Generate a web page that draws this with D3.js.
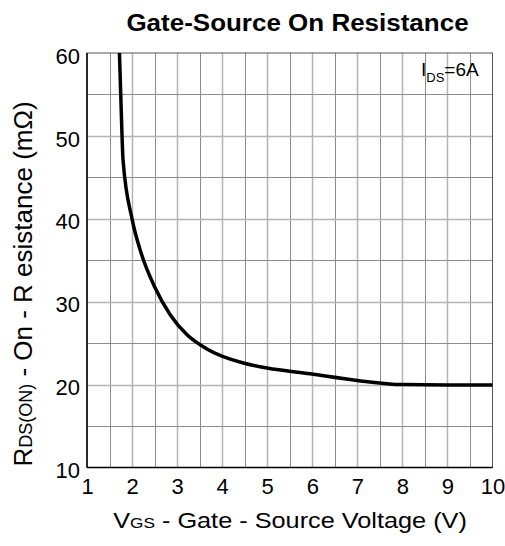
<!DOCTYPE html>
<html><head><meta charset="utf-8">
<script src="https://cdn.jsdelivr.net/npm/d3@7"></script>
<style>body{margin:0;background:#fff}svg{display:block;font-family:"Liberation Sans",Arial,sans-serif}</style>
</head><body>
<svg id="c" width="505" height="546"></svg>
<script>
const vgs = [1.72, 1.76, 1.80, 2.0, 2.2, 2.5, 2.85, 3.22, 3.66, 4.47, 5.0, 5.95, 7.0, 8.0, 9.0, 10.0];
const rds = [60, 53, 47.1, 40.0, 35.9, 31.8, 28.4, 26.0, 24.3, 22.6, 22.0, 21.3, 20.5, 20.0, 19.95, 19.95];
const xTicks = [1,2,3,4,5,6,7,8,9,10];
const yTicks = [10,20,30,40,50,60];

const svg = d3.select("#c");
const L=87, R=492.5, T=53, B=467.5;
const x = d3.scaleLinear().domain([1,10]).range([L,R]);
const y = d3.scaleLinear().domain([10,60]).range([B,T]);

// grid
const g = svg.append("g");
g.selectAll(".vg").data(d3.range(1.5,10,0.5)).join("line")
  .attr("x1",d=>Math.round(x(d))+0.5).attr("x2",d=>Math.round(x(d))+0.5)
  .attr("y1",T).attr("y2",B)
  .attr("stroke",d=>Number.isInteger(d)?"#b4b4b4":"#8c8c8c").attr("stroke-width",d=>Number.isInteger(d)?1.5:1);
g.selectAll(".hg").data(d3.range(15,60,5)).join("line")
  .attr("y1",d=>Math.round(y(d))+0.5).attr("y2",d=>Math.round(y(d))+0.5)
  .attr("x1",L).attr("x2",R)
  .attr("stroke",d=>d%10===0?"#b4b4b4":"#8c8c8c").attr("stroke-width",d=>d%10===0?1.5:1);
// frame
svg.append("rect").attr("x",L).attr("y",T).attr("width",R-L).attr("height",B-T)
  .attr("fill","none").attr("stroke","#555").attr("stroke-width",1);
svg.append("line").attr("x1",L).attr("x2",L).attr("y1",T).attr("y2",B).attr("stroke","#000").attr("stroke-width",1.5);
svg.append("line").attr("x1",L).attr("x2",R).attr("y1",B).attr("y2",B).attr("stroke","#000").attr("stroke-width",1.5);

// axes (labels only)
const xa = svg.append("g").attr("transform",`translate(0,${B})`)
  .call(d3.axisBottom(x).tickValues(xTicks).tickSize(0).tickFormat(d3.format("d")));
xa.select(".domain").remove();
xa.selectAll("text").attr("font-size",22).attr("fill","#000").attr("font-family","Liberation Sans, Arial, sans-serif")
  .attr("y",26).attr("dy",0);
const ya = svg.append("g").attr("transform",`translate(${L},0)`)
  .call(d3.axisLeft(y).tickValues(yTicks).tickSize(0).tickPadding(7).tickFormat(d3.format("d")));
ya.select(".domain").remove();
ya.selectAll("text").attr("font-size",22).attr("fill","#000").attr("font-family","Liberation Sans, Arial, sans-serif")
  .attr("dy","0.46em");

// curve
svg.append("path").datum(vgs.map((v,i)=>[v,rds[i]]))
  .attr("fill","none").attr("stroke","#000").attr("stroke-width",3.5).attr("stroke-linejoin","round")
  .attr("d",d3.line().x(d=>x(d[0])).y(d=>y(d[1])).curve(d3.curveMonotoneX));

// title
svg.append("text").attr("transform","translate(297.5,31) scale(1.13,1)").attr("text-anchor","middle")
  .attr("font-size",23).attr("font-weight","bold").text("Gate-Source On Resistance");

// annotation
const ann = svg.append("text").attr("x",421).attr("y",76).attr("font-size",19);
ann.append("tspan").text("I");
ann.append("tspan").attr("font-size",13).attr("dy",6).text("DS");
ann.append("tspan").attr("dy",-6).text("=6A");

// x label
const xl = svg.append("text").attr("transform","translate(290,528) scale(1.15,1)").attr("text-anchor","middle").attr("font-size",22);
xl.append("tspan").text("V");
xl.append("tspan").attr("font-size",15).text("GS");
xl.append("tspan").text(" - Gate - Source Voltage (V)");

// y label
const yl = svg.append("text").attr("transform","translate(32,284) rotate(-90)").attr("text-anchor","middle").attr("font-size",26);
yl.append("tspan").text("R");
yl.append("tspan").attr("font-size",18).text("DS(ON)");
yl.append("tspan").text(" - On - R esistance (m\u03A9)");
</script>
</body></html>
